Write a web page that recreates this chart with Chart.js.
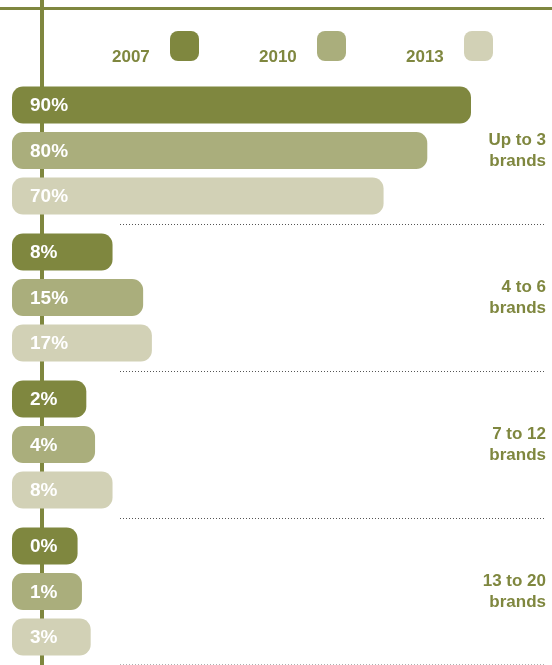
<!DOCTYPE html>
<html>
<head>
<meta charset="utf-8">
<script src="https://cdn.jsdelivr.net/npm/chart.js@4"></script>
<style>
  html, body { margin: 0; padding: 0; background: #fff; }
  #wrap { width: 552px; height: 665px; position: relative; }
</style>
</head>
<body>
<div id="wrap"><canvas id="brandsChart"></canvas></div>
<script>
// share of respondents by number of brands used
const categories = [['Up to 3', 'brands'], ['4 to 6', 'brands'], ['7 to 12', 'brands'], ['13 to 20', 'brands']];
const years = ['2007', '2010', '2013'];
const values2007 = [90, 8, 2, 0];
const values2010 = [80, 15, 4, 1];
const values2013 = [70, 17, 8, 3];

const seriesValues = [values2007, values2010, values2013];
const colors = ['#7f873f', '#aaae7c', '#d2d1b6'];
const olive = '#7f873f';
const FONT = "'Liberation Sans', Arial, sans-serif";
const BAR_BASE = -15; // bars start a little left of zero so short ones stay readable

// rules, dotted separators, value labels and the legend
const decor = {
    id: 'decor',
    beforeDatasetsDraw(chart) {
        const ctx = chart.ctx;
        const y = chart.scales.y;
        const bottom = chart.chartArea.bottom;
        ctx.save();
        ctx.strokeStyle = olive;
        ctx.lineWidth = 3;
        ctx.beginPath(); ctx.moveTo(0, 8.5); ctx.lineTo(chart.width, 8.5); ctx.stroke();
        ctx.lineWidth = 4;
        ctx.beginPath(); ctx.moveTo(42, 0); ctx.lineTo(42, chart.height); ctx.stroke();

        ctx.lineWidth = 1;
        ctx.setLineDash([1, 2]);
        for (let i = 0; i < categories.length; i++) {
            const last = i === categories.length - 1;
            const yy = last ? bottom - 1 : (y.getPixelForValue(i) + y.getPixelForValue(i + 1)) / 2;
            ctx.strokeStyle = last ? '#b0b0b0' : '#555';
            ctx.beginPath();
            ctx.moveTo(120, Math.round(yy) + 0.5);
            ctx.lineTo(546, Math.round(yy) + 0.5);
            ctx.stroke();
        }
        ctx.restore();
    },
    afterDatasetsDraw(chart) {
        const ctx = chart.ctx;
        ctx.save();
        ctx.fillStyle = '#fff';
        ctx.font = 'bold 19px ' + FONT;
        ctx.textBaseline = 'middle';
        ctx.textAlign = 'left';
        chart.data.datasets.forEach((ds, i) => {
            chart.getDatasetMeta(i).data.forEach((bar, j) => {
                ctx.fillText(ds.data[j] + '%', chart.chartArea.left + 18, bar.y + 1);
            });
        });
        ctx.restore();
    },
    afterDraw(chart) {
        // legend: year text followed by a rounded swatch
        const ctx = chart.ctx;
        ctx.save();
        ctx.font = 'bold 17px ' + FONT;
        ctx.textBaseline = 'alphabetic';
        chart.data.datasets.forEach((ds, i) => {
            const x0 = 112 + i * 147;
            ctx.fillStyle = olive;
            ctx.fillText(ds.label, x0, 62);
            ctx.fillStyle = ds.backgroundColor;
            ctx.beginPath();
            ctx.roundRect(x0 + 58, 31, 29, 30, 8);
            ctx.fill();
        });
        ctx.restore();
    }
};

const config = {
    type: 'bar',
    data: {
        labels: categories,
        datasets: years.map((yr, i) => ({
            label: yr,
            data: seriesValues[i],
            backgroundColor: colors[i],
            base: BAR_BASE,
            borderRadius: 11,
            borderSkipped: false,
            barPercentage: 0.813,
            categoryPercentage: 0.93,
            clip: false
        }))
    },
    options: {
        indexAxis: 'y',
        responsive: true,
        maintainAspectRatio: false,
        animation: false,
        layout: { padding: { left: 12, right: 6, top: 77, bottom: 0 } },
        plugins: {
            legend: { display: false },
            tooltip: { enabled: false }
        },
        scales: {
            x: { display: false, min: BAR_BASE, max: 90 },
            y: {
                position: 'right',
                grid: { display: false },
                border: { display: false },
                ticks: {
                    crossAlign: 'far',
                    padding: 9,
                    color: olive,
                    font: { family: FONT, size: 17, weight: 'bold', lineHeight: 1.25 }
                },
                afterFit(scale) {
                    scale.width = 75;
                    scale.paddingTop = 0;
                    scale.paddingBottom = 0;
                }
            }
        }
    },
    plugins: [decor]
};

new Chart(document.getElementById('brandsChart').getContext('2d'), config);
</script>
</body>
</html>
